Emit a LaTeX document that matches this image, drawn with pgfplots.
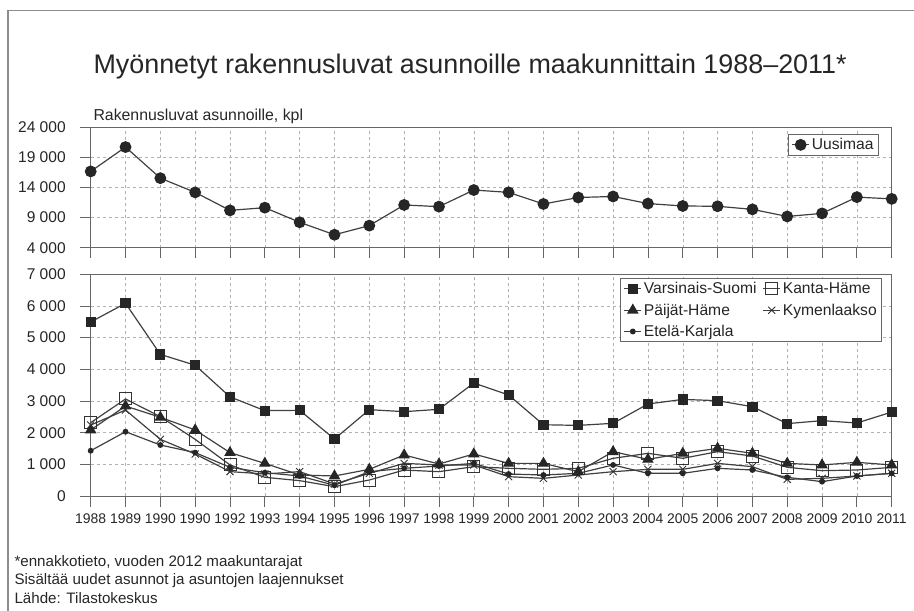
\documentclass[border=0pt]{standalone}
\usepackage{fontspec}
\setmainfont{Liberation Sans}
\usepackage{pgfplots}
\usepackage{pgfplotstable}
\pgfplotsset{compat=1.18}

% x = 0..23 -> 1988..2011 (4th label is printed as 1990 in the original)
\pgfplotstableread{
x  UU
0  16670
1  20720
2  15550
3  13190
4  10200
5  10650
6  8220
7  6150
8  7670
9  11100
10 10820
11 13580
12 13190
13 11260
14 12340
15 12510
16 11330
17 10930
18 10880
19 10370
20 9190
21 9700
22 12400
23 12110
}\topdata

\pgfplotstableread{
x  VS   KH   PH   KY   EK
0  5495 2316 2085 2240 1430
1  6084 3063 2840 2715 2030
2  4470 2505 2485 1790 1610
3  4130 1790 2085 1326 1370
4  3130 980  1370 770  905
5  2695 590  1030 695  737
6  2705 485  663  770  632
7  1800 295  632  380  337
8  2726 505  842  716  768
9  2663 820  1295 1030 874
10 2737 768  1010 980  947
11 3568 926  1326 980  1030
12 3190 874  1030 610  695
13 2250 842  1030 558  663
14 2230 874  768  663  716
15 2295 1190 1400 768  980
16 2905 1347 1158 842  716
17 3050 1190 1347 842  716
18 3010 1400 1505 1030 874
19 2820 1263 1347 926  821
20 2285 905  1030 526  590
21 2380 800  980  558  453
22 2305 821  1063 632  632
23 2650 905  980  716  716
}\botdata

\pgfplotsset{
  panel/.style={
    scale only axis, width=801bp,
    xmin=0, xmax=23, xtick={0,...,23},
    axis line style={black!60, line width=0.8bp},
    tick style={black!60, line width=0.8bp},
    tick align=outside, major tick length=10.5bp,
    xtick pos=bottom, ytick pos=left,
    grid=major,
    grid style={black!30, dash pattern=on 3bp off 3bp, line width=0.5bp},
    scaled y ticks=false,
    /pgf/number format/assume math mode=true,
    /pgf/number format/1000 sep={\ },
    yticklabel style={font=\fontsize{15.6}{18}\selectfont, text=black!85, xshift=-11bp},
    xticklabel style={font=\fontsize{14}{16}\selectfont, text=black!85, yshift=-4bp},
    legend style={font=\fontsize{15.7}{18}\selectfont, draw=black!60,
      line width=0.8bp, text=black!85},
    legend cell align=left,
  },
  ser/.style={draw=black!75, line width=1.2bp, mark options={solid, draw=black!85, fill=black!85}},
}

\begin{document}
\begin{tikzpicture}
\path[use as bounding box] (0,0) rectangle (914bp,-611bp);
\draw[black!45, line width=1.2bp] (8bp,-640bp) -- (8bp,-10.3bp) -- (940bp,-10.3bp);

\node[anchor=base west, font=\fontsize{27}{32}\selectfont, text=black!85] at (90bp,-73.5bp)
  {Myönnetyt rakennusluvat asunnoille maakunnittain 1988–2011*};
\node[anchor=base west, font=\fontsize{15.9}{18}\selectfont, text=black!85] at (90bp,-120bp)
  {Rakennusluvat asunnoille, kpl};

\begin{axis}[panel,
  at={(90.7bp,-127.3bp)}, anchor=north west,
  height=120.4bp,
  ymin=4000, ymax=24000, ytick={4000,9000,...,24000},
  xticklabels={},
  legend style={at={(0.984,0.944)}, anchor=north east},
]
\addplot[ser, mark=*, mark size=5.3bp] table[x=x, y=UU] {\topdata};
\addlegendentry{Uusimaa}
\end{axis}

\begin{axis}[panel,
  at={(90.7bp,-274.3bp)}, anchor=north west,
  height=221.7bp,
  ymin=0, ymax=7000, ytick={0,1000,...,7000},
  xticklabels={1988,1989,1990,1990,1992,1993,1994,1995,1996,1997,1998,1999,2000,2001,2002,2003,2004,2005,2006,2007,2008,2009,2010,2011},
  legend columns=2,
  legend style={at={(0.988,0.983)}, anchor=north east, row sep=4.5bp,
    /tikz/every even column/.append style={column sep=4bp}},
]
\addplot[ser, mark=square*, mark size=4.5bp] table[x=x, y=VS] {\botdata};
\addlegendentry{Varsinais-Suomi}
\addplot[ser, mark=square, mark size=6bp, mark options={solid, draw=black!80, fill=none, line width=1bp}] table[x=x, y=KH] {\botdata};
\addlegendentry{Kanta-Häme}
\addplot[ser, mark=triangle*, mark size=5.5bp] table[x=x, y=PH] {\botdata};
\addlegendentry{Päijät-Häme}
\addplot[ser, mark=x, mark size=5bp, mark options={solid, draw=black!80, line width=0.9bp}] table[x=x, y=KY] {\botdata};
\addlegendentry{Kymenlaakso}
\addplot[ser, mark=*, mark size=2.3bp] table[x=x, y=EK] {\botdata};
\addlegendentry{Etelä-Karjala}
\end{axis}

\begin{scope}[font=\fontsize{15.2}{18}\selectfont]
\node[anchor=base west, text=black!85] at (11bp,-566bp) {*ennakkotieto, vuoden 2012 maakuntarajat};
\node[anchor=base west, text=black!85] at (11bp,-584bp) {Sisältää uudet asunnot ja asuntojen laajennukset};
\node[anchor=base west, text=black!85] at (11bp,-603bp) {Lähde: Tilastokeskus};
\end{scope}
\end{tikzpicture}
\end{document}
